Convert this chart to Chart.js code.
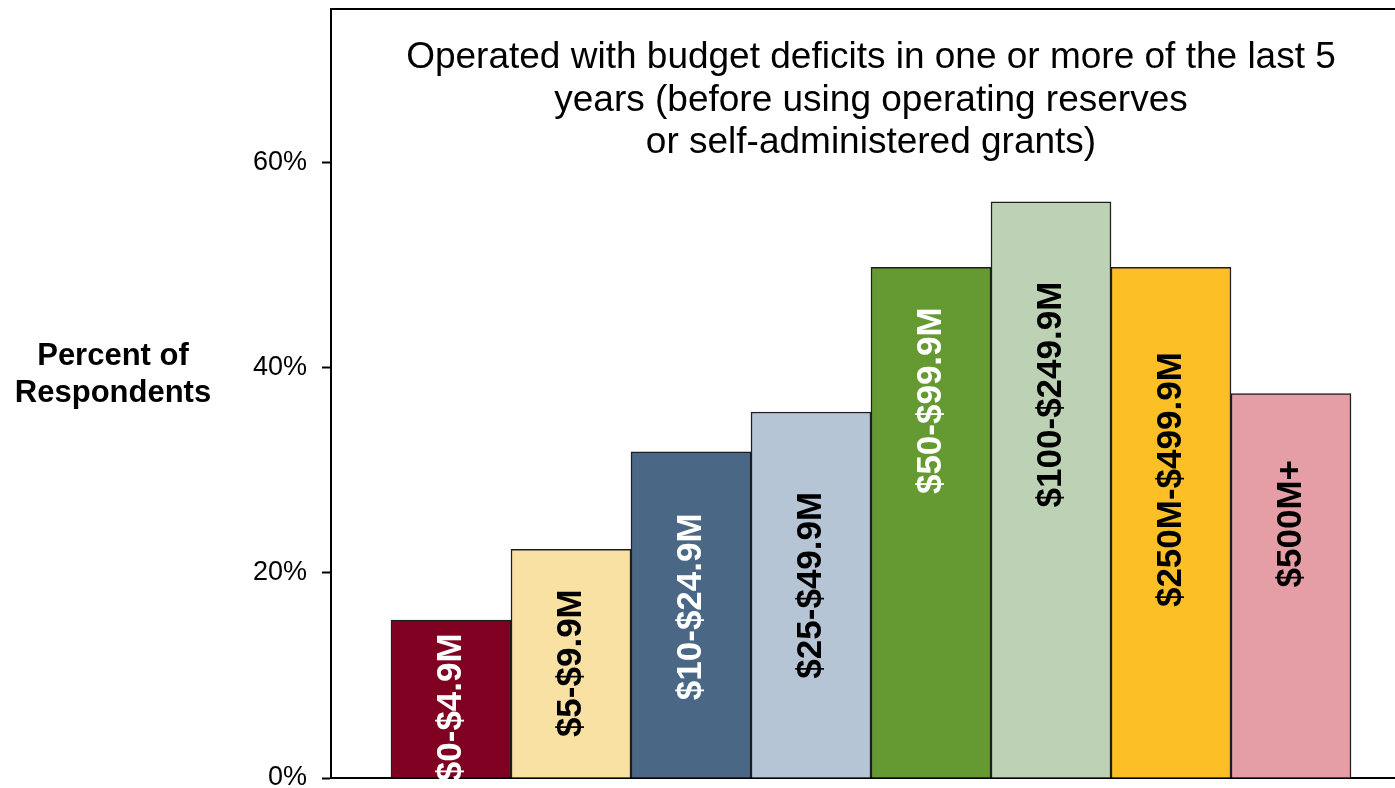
<!DOCTYPE html>
<html lang="en">
<head>
    <meta charset="UTF-8">
    <title>Budget Deficits by Budget Size</title>
    <script src="https://cdn.jsdelivr.net/npm/chart.js"></script>
    <style>
        html, body { margin: 0; padding: 0; background: #fff; overflow: hidden; }
        #deficitChart { display: block; }
    </style>
</head>
<body>
    <canvas id="deficitChart" width="1420" height="788"></canvas>

    <script>
        // Budget-size groups and share of respondents reporting a deficit
        const categories = ['$0-$4.9M', '$5-$9.9M', '$10-$24.9M', '$25-$49.9M',
                            '$50-$99.9M', '$100-$249.9M', '$250M-$499.9M', '$500M+'];
        const deficitPct = [15.4, 22.3, 31.8, 35.7, 49.8, 56.2, 49.8, 37.5];
        // where each in-bar label is centred, in percent units
        const labelAt = [6.9, 11.2, 16.7, 18.8, 36.8, 37.4, 29.1, 24.8];
        const barColors = ['#7f0020', '#f9e1a4', '#4a6886', '#b5c5d5',
                           '#659a32', '#bdd2b5', '#fdbf26', '#e59ea6'];
        const labelColors = ['#fff', '#000', '#fff', '#000', '#fff', '#000', '#000', '#000'];
        const yTicks = [0, 20, 40, 60];
        const titleLines = ['Operated with budget deficits in one or more of the last 5',
                            'years (before using operating reserves',
                            'or self-administered grants)'];
        const yTitleLines = ['Percent of', 'Respondents'];

        const FONT = "'Liberation Sans', Arial, sans-serif";

        // Frame line, chart title, axis title and rotated bar labels
        const decorations = {
            id: 'decorations',
            afterDatasetsDraw(chart) {
                const { ctx, chartArea, scales } = chart;
                const meta = chart.getDatasetMeta(0);

                ctx.save();
                meta.data.forEach((bar, i) => {
                    const y = scales.y.getPixelForValue(labelAt[i]);
                    ctx.save();
                    ctx.translate(bar.x, y);
                    ctx.rotate(-Math.PI / 2);
                    ctx.font = 'bold 35px ' + FONT;
                    ctx.fillStyle = labelColors[i];
                    ctx.textAlign = 'center';
                    ctx.textBaseline = 'middle';
                    ctx.fillText(categories[i], 0, 0);
                    ctx.restore();
                });

                // top edge of the plot frame
                ctx.strokeStyle = '#000';
                ctx.lineWidth = 2;
                ctx.beginPath();
                ctx.moveTo(chartArea.left, chartArea.top);
                ctx.lineTo(chartArea.right, chartArea.top);
                ctx.stroke();

                // title inside the plot area
                const cx = (chartArea.left + chartArea.right) / 2;
                ctx.fillStyle = '#000';
                ctx.font = '37px ' + FONT;
                ctx.textAlign = 'center';
                ctx.textBaseline = 'alphabetic';
                titleLines.forEach((t, i) => {
                    ctx.fillText(t, cx, chartArea.top + 59 + i * 42.5);
                });

                // axis title on the left
                const mid = (chartArea.top + chartArea.bottom) / 2;
                ctx.font = 'bold 31px ' + FONT;
                yTitleLines.forEach((t, i) => {
                    ctx.fillText(t, chartArea.left - 218, mid - 29 + i * 37);
                });
                ctx.restore();
            }
        };

        new Chart(document.getElementById('deficitChart'), {
            type: 'bar',
            data: {
                datasets: [{
                    data: deficitPct.map((v, i) => ({ x: i, y: v })),
                    backgroundColor: barColors,
                    borderColor: '#1e1e1e',
                    borderWidth: 1.5,
                    barPercentage: 1,
                    categoryPercentage: 1
                }]
            },
            options: {
                responsive: false,
                animation: false,
                layout: { padding: { left: 0, right: 9, top: 9, bottom: 10 } },
                plugins: {
                    legend: { display: false },
                    tooltip: { enabled: false },
                    title: { display: false }
                },
                scales: {
                    x: {
                        type: 'linear',
                        offset: false,
                        min: -1,
                        max: categories.length,
                        grid: { display: false, drawTicks: false },
                        ticks: { display: false },
                        border: { display: true, color: '#000', width: 2 },
                        afterFit: (scale) => {
                            scale.height = 0;
                            scale.paddingLeft = 0;
                            scale.paddingRight = 0;
                        }
                    },
                    y: {
                        min: 0,
                        max: 75,
                        afterBuildTicks: (scale) => {
                            scale.ticks = yTicks.map(v => ({ value: v }));
                        },
                        afterFit: (scale) => {
                            scale.width = 331;
                            scale.paddingTop = 0;
                            scale.paddingBottom = 0;
                        },
                        grid: {
                            drawOnChartArea: false,
                            drawTicks: true,
                            tickLength: 9,
                            tickWidth: 2,
                            tickColor: '#000'
                        },
                        border: { display: true, color: '#000', width: 2 },
                        ticks: {
                            padding: 15,
                            color: '#000',
                            font: { family: FONT, size: 27 },
                            callback: (v) => v + '%'
                        }
                    }
                }
            },
            plugins: [decorations]
        });
    </script>
</body>
</html>
